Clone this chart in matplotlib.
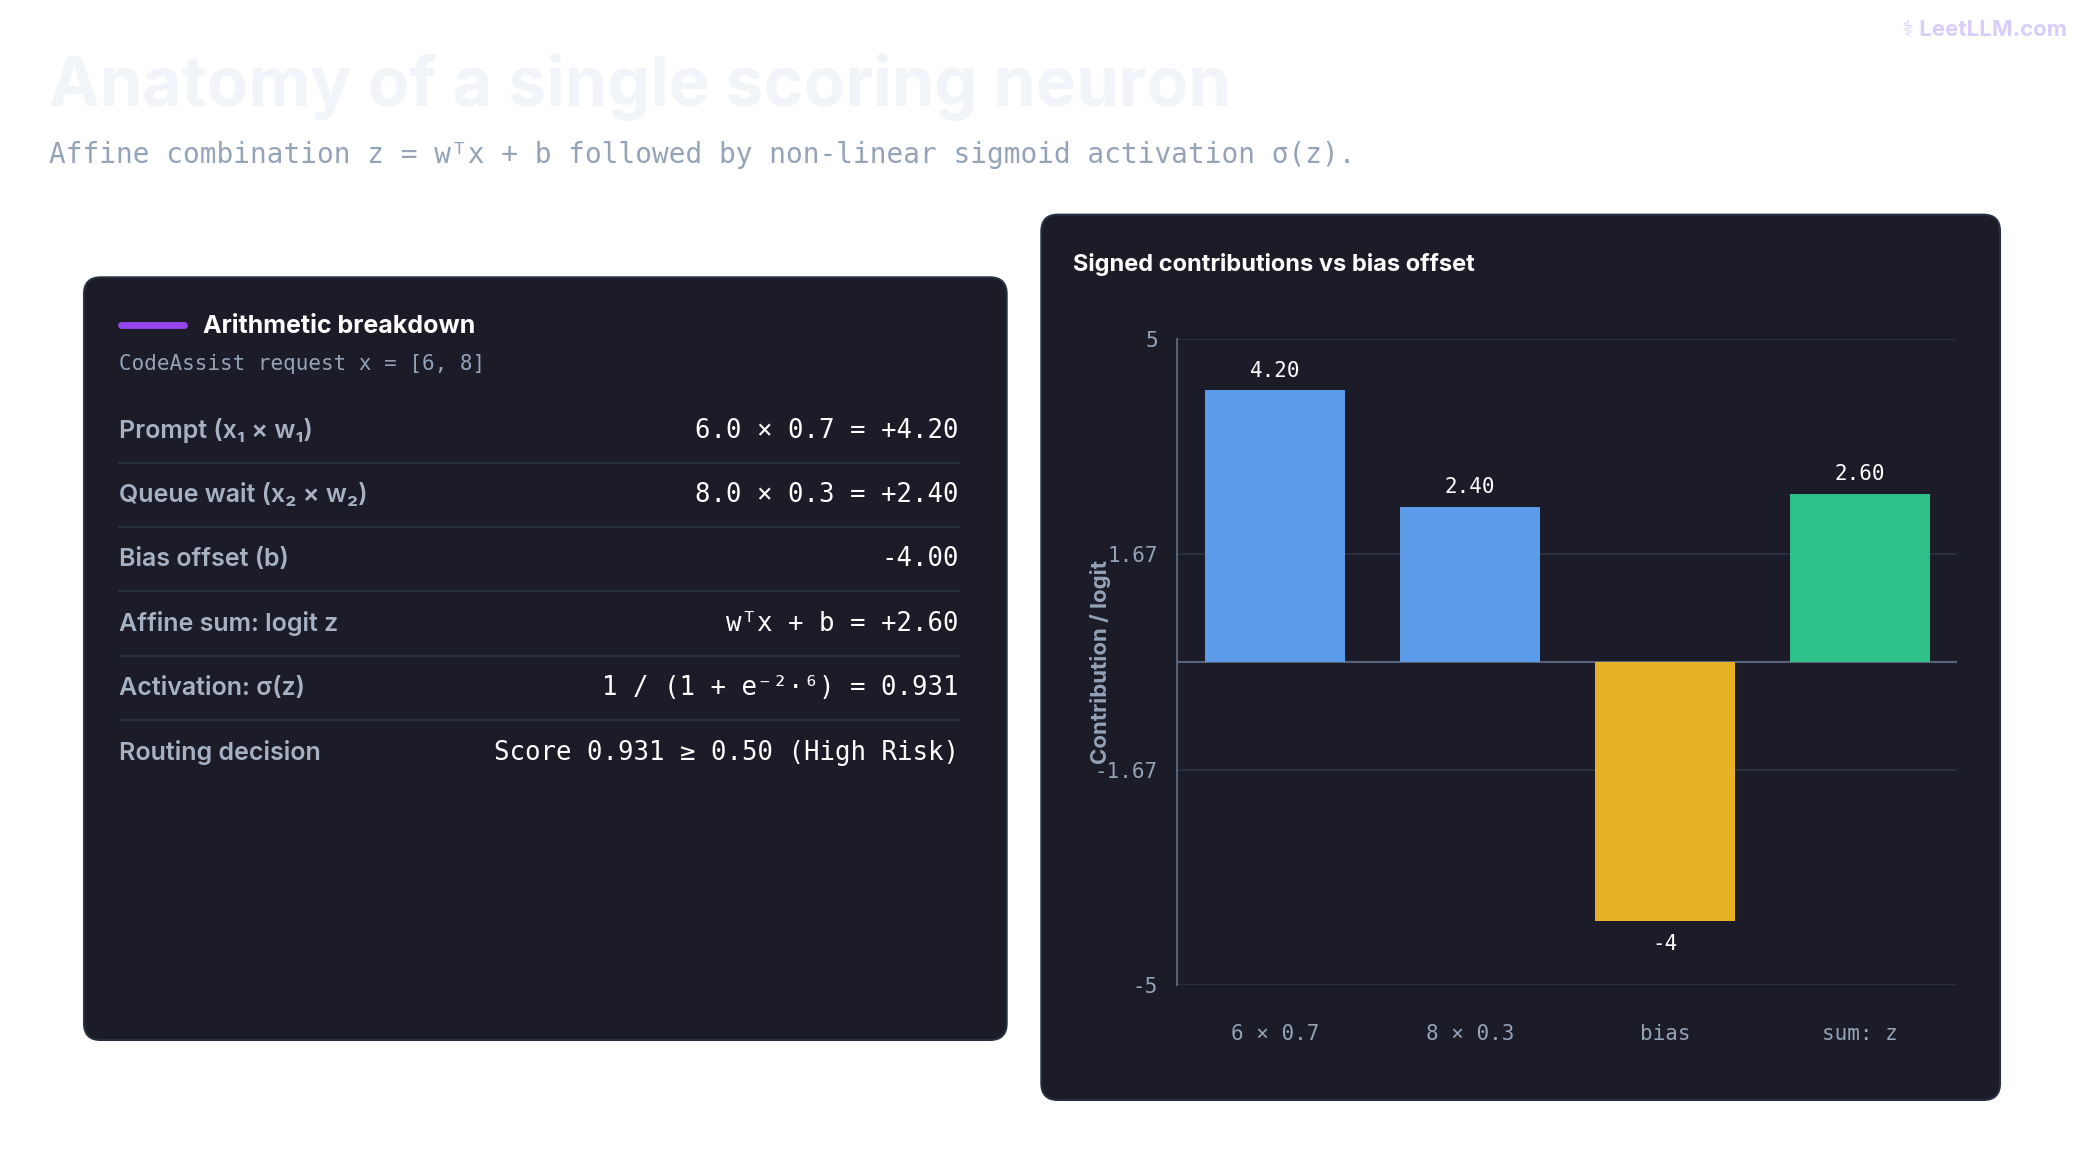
import matplotlib
matplotlib.use("Agg")
import matplotlib.pyplot as plt
from matplotlib.patches import FancyBboxPatch

categories = ["6 × 0.7", "8 × 0.3", "bias", "sum: z"]
values = [4.20, 2.40, -4.0, 2.60]
value_labels = ["4.20", "2.40", "-4", "2.60"]
bar_colors = ["#5b9be8", "#5b9be8", "#e8b024", "#2ec28a"]
yticks = [5, 1.67, -1.67, -5]
ytick_labels = ["5", "1.67", "-1.67", "-5"]
row_labels = ["Prompt (x₁ × w₁)", "Queue wait (x₂ × w₂)", "Bias offset (b)",
              "Affine sum: logit z", "Activation: σ(z)", "Routing decision"]
row_values = ["6.0 × 0.7 = +4.20", "8.0 × 0.3 = +2.40", "-4.00",
              "wᵀx + b = +2.60", "1 / (1 + e⁻²·⁶) = 0.931", "Score 0.931 ≥ 0.50 (High Risk)"]

W, H = 1560, 870
def fx(x): return x / W
def fy(y): return 1 - y / H

fig = plt.figure(figsize=(20.8, 11.6), dpi=100, facecolor="white")
SANS = ["Inter", "DejaVu Sans"]
MONO = ["DejaVu Sans Mono"]
PANEL = "#1c1c28"

fig.text(fx(37), fy(65), "Anatomy of a single scoring neuron", family=SANS, weight="bold",
         fontsize=49, color="#f1f4f9", va="center")
fig.text(fx(37), fy(116), "Affine combination z = wᵀx + b followed by non-linear sigmoid activation σ(z).",
         family=MONO, fontsize=20, color="#94a3b8", va="center")
fig.text(fx(1550), fy(22), "⚕ LeetLLM.com", family=SANS, weight="bold", fontsize=16,
         color="#d8cdfc", ha="right", va="center")

for (x0, y0, x1, y1) in [(63, 208, 755, 780), (781, 161, 1500, 825)]:
    p = FancyBboxPatch((fx(x0), fy(y1)), fx(x1 - x0), (y1 - y0) / H,
                       boxstyle="round,pad=0,rounding_size=0.008", transform=fig.transFigure,
                       facecolor=PANEL, edgecolor="#263041", linewidth=1.5, mutation_aspect=W / H,
                       zorder=-1)
    fig.add_artist(p)

# left panel
fig.add_artist(plt.Line2D([fx(91), fx(138)], [fy(244), fy(244)], transform=fig.transFigure,
                          color="#9446ec", linewidth=5, solid_capstyle="round"))
fig.text(fx(152), fy(245), "Arithmetic breakdown", family=SANS, weight="bold", fontsize=18,
         color="white", va="center")
fig.text(fx(89), fy(273), "CodeAssist request x = [6, 8]", family=MONO, fontsize=15,
         color="#94a3b8", va="center")
for i, (lab, val) in enumerate(zip(row_labels, row_values)):
    y = 323 + i * 48.3
    fig.text(fx(89), fy(y), lab, family=SANS, weight="semibold", fontsize=18, color="#a6b2c4", va="center")
    fig.text(fx(719), fy(y), val, family=MONO, fontsize=18.5, color="white", va="center", ha="right")
    if i < len(row_labels) - 1:
        fig.add_artist(plt.Line2D([fx(89), fx(719)], [fy(y + 24)] * 2, transform=fig.transFigure,
                                  color="#283346", linewidth=1.2))

# right panel chart
fig.text(fx(805), fy(198), "Signed contributions vs bias offset", family=SANS, weight="bold",
         fontsize=17, color="white", va="center")
ax = fig.add_axes([fx(883), fy(739), fx(1468 - 883), (739 - 254) / H])
ax.set_facecolor(PANEL)
ax.patch.set_alpha(0)
xs = range(len(categories))
ax.bar(xs, values, width=0.72, color=bar_colors, zorder=3)
for x, v, t in zip(xs, values, value_labels):
    ax.text(x, v + (0.15 if v > 0 else -0.2), t, ha="center", va="bottom" if v > 0 else "top",
            family=MONO, fontsize=15, color="white", zorder=4)
ax.set_ylim(-5, 5)
ax.set_xlim(-0.5, 3.5)
ax.set_yticks(yticks)
ax.set_yticklabels(ytick_labels, family=MONO, fontsize=15, color="#94a3b8")
ax.set_xticks(list(xs))
ax.set_xticklabels(categories, family=MONO, fontsize=15, color="#94a3b8")
ax.tick_params(length=0, pad=14)
ax.tick_params(axis="x", pad=28)
ax.grid(axis="y", color="#2a3446", linewidth=1.2, zorder=0)
ax.axhline(0, color="#55627a", linewidth=1.5, zorder=2)
for s in ["top", "right", "bottom"]:
    ax.spines[s].set_visible(False)
ax.spines["left"].set_color("#55627a")
ax.spines["left"].set_linewidth(1.5)
ax.set_ylabel("Contribution / logit", family=SANS, weight="bold", fontsize=16, color="#94a3b8",
              labelpad=-12)

fig.savefig("out.png", dpi=100, facecolor="white")
